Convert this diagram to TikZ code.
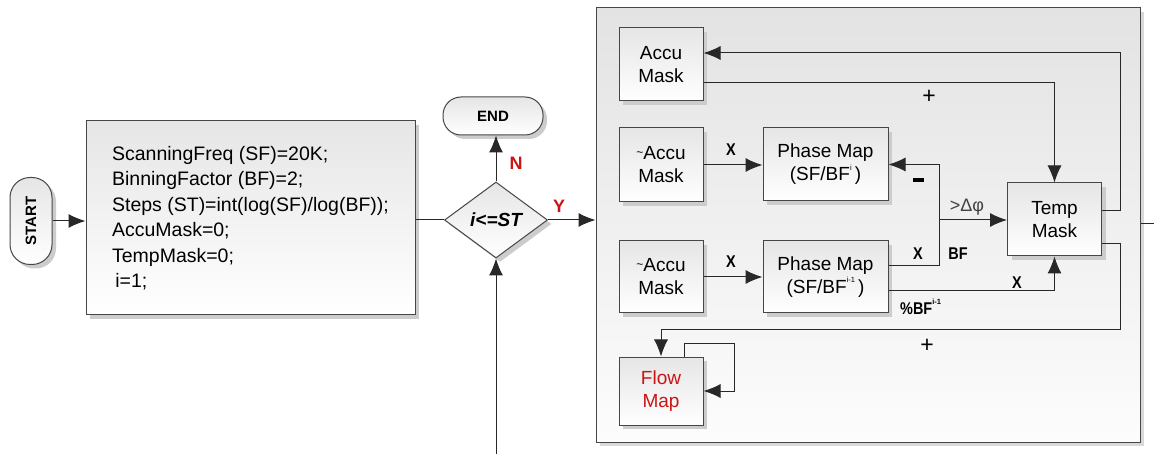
\documentclass[tikz,border=0pt]{standalone}
\usepackage{fontspec}
\setmainfont{Liberation Sans}
\usepackage{xcolor}
\usetikzlibrary{positioning,arrows.meta,shapes.geometric,shadows,calc}
\definecolor{linecolor}{RGB}{40,40,40}
\definecolor{boxline}{RGB}{70,70,70}
\definecolor{yesno}{RGB}{204,20,20}
\tikzset{
  shade box/.style={
    draw=boxline,
    line width=1pt,
    top color=black!10,
    bottom color=white,
    drop shadow={shadow xshift=4pt, shadow yshift=-4pt, fill=black!20, opacity=1}
  },
  mapbox/.style={
    shade box,
    rectangle,
    inner sep=0pt,
    align=center,
    font=\fontsize{19}{23}\selectfont
  },
  term/.style={
    shade box,
    rectangle,
    rounded corners=18pt,
    inner sep=0pt,
    font=\fontsize{15}{16}\selectfont\bfseries
  },
  initbox/.style={
    shade box,
    rectangle,
    align=left,
    font=\fontsize{19.5}{25.5}\selectfont
  },
  decision/.style={
    shade box,
    diamond,
    minimum width=103pt,
    minimum height=76pt,
    inner sep=0pt,
    font=\fontsize{19}{20}\selectfont\bfseries\itshape
  },
  panel/.style={
    draw=boxline,
    line width=1pt,
    top color=black!11,
    bottom color=black!1,
    drop shadow={shadow xshift=4pt, shadow yshift=-4pt, fill=black!15, opacity=1}
  },
  arrow/.style={
    -{Latex[length=17pt,width=14pt]},
    line width=1pt,
    draw=linecolor
  },
  wire/.style={line width=1pt, draw=linecolor},
  lbl/.style={font=\fontsize{17}{17}\selectfont\bfseries, inner sep=0pt},
  pluslbl/.style={font=\fontsize{23}{23}\selectfont, inner sep=0pt}
}
\newcommand{\supi}[1]{\raisebox{0.55em}{\fontsize{7.5}{7.5}\selectfont #1}}
\newcommand{\narrow}[1]{\scalebox{0.85}[1]{#1}}

\begin{document}
\begin{tikzpicture}[x=1pt, y=-1pt]
  \useasboundingbox (0,0) rectangle (1154,454);

  % main flow
  \node[term, minimum width=42pt, minimum height=87pt, rounded corners=20pt] (start) at (31,221) {\rotatebox{90}{START}};
  \node[initbox, minimum width=329pt, minimum height=194pt] (init) at (250.5,218)
    {ScanningFreq (SF)=20K;\\BinningFactor (BF)=2;\\Steps (ST)=int(log(SF)/log(BF));\\AccuMask=0;\\TempMask=0;\\\,i=1;};
  \node[decision] (test) at (496,220) {i<=ST};
  \node[term, minimum width=100pt, minimum height=38pt] (end) at (493,116) {END};

  % loop body
  \node[panel, minimum width=544pt, minimum height=434pt] (body) at (868,225) {};
  \node[mapbox, minimum width=84pt, minimum height=73pt] (accu) at (661,64.5) {Accu\\Mask};
  \node[mapbox, minimum width=84pt, minimum height=74pt] (naccu1) at (661,165) {\raisebox{0.2em}{\fontsize{12}{12}\selectfont\textasciitilde}Accu\\Mask};
  \node[mapbox, minimum width=125pt, minimum height=73pt] (phase1) at (825.5,164.5) {Phase Map\\(SF/BF\supi{i}\,)};
  \node[mapbox, minimum width=94pt, minimum height=73pt] (temp) at (1054.5,219.5) {Temp\\Mask};
  \node[mapbox, minimum width=84pt, minimum height=72pt] (naccu2) at (661,277) {\raisebox{0.2em}{\fontsize{12}{12}\selectfont\textasciitilde}Accu\\Mask};
  \node[mapbox, minimum width=125pt, minimum height=72pt] (phase2) at (825.5,277) {Phase Map\\(SF/BF\supi{i-1}\,)};
  \node[mapbox, minimum width=84pt, minimum height=68pt, text=yesno] (flow) at (661,391) {Flow\\Map};

  % connections of the main flow
  \draw[arrow] (start.east) -- (start.east -| init.west);
  \draw[wire] (init.east |- test.west) -- (test.west);
  \draw[arrow] (test.north) -- (test.north |- end.south);
  \draw[arrow] (test.east) -- (test.east -| body.west);
  \coordinate (back) at (496,454);
  \draw[arrow] (back) -- (test.south);
  \coordinate (exit) at (1154,224);
  \draw[wire] (exit -| body.east) -- (exit);
  \node[lbl, text=yesno, font=\fontsize{18}{18}\selectfont\bfseries] (lblN) at (516,163) {N};
  \node[lbl, text=yesno, font=\fontsize{18}{18}\selectfont\bfseries] (lblY) at (559,206) {Y};

  % connections in the loop body
  \draw[arrow] ([yshift=8.5pt]temp.east) -- ++(18,0) |- ([yshift=11.5pt]accu.east);
  \draw[arrow] ([yshift=-18.5pt]accu.east) -| (temp.north);
  \draw[arrow] (naccu1.east) -- (naccu1.east -| phase1.west);
  \draw[arrow] (naccu2.east) -- (phase2.west);
  \draw[arrow] ([yshift=11pt]phase2.east) -- ++(51,0) |- (phase1.east);
  \coordinate (split) at (939,220);
  \draw[arrow] (split) -- (split -| temp.west);
  \draw[arrow] ([yshift=-14pt]phase2.east) -| (temp.south);
  \draw[arrow] ([yshift=-24.5pt]temp.east) -- ++(18,0) -- ++(0,86) -| (flow.north);
  \draw[arrow] ([xshift=23pt]flow.north) -- ++(0,-13) -- ++(50,0) |- (flow.east);

  % labels
  \node[pluslbl] (plus1) at (929,97) {+};
  \node[pluslbl] (plus2) at (927,346) {+};
  \node[lbl] (x1) at (731,150) {\narrow{X}};
  \node[lbl] (x2) at (731,262) {\narrow{X}};
  \node[lbl] (x3) at (918,254) {\narrow{X}};
  \node[lbl] (bf) at (958,254) {\narrow{BF}};
  \node[lbl] (x4) at (1017,283) {\narrow{X}};
  \node[lbl, anchor=west] (mod) at (900,307) {\narrow{\%BF}\supi{i-1}};
  \node[inner sep=0pt] (minus) at (918,180) {\rule{11pt}{3.5pt}};
  \node[inner sep=0pt, text=black!75, font=\fontsize{18}{18}\selectfont] (dphi) at (967,207) {>Δφ};

\end{tikzpicture}
\end{document}
